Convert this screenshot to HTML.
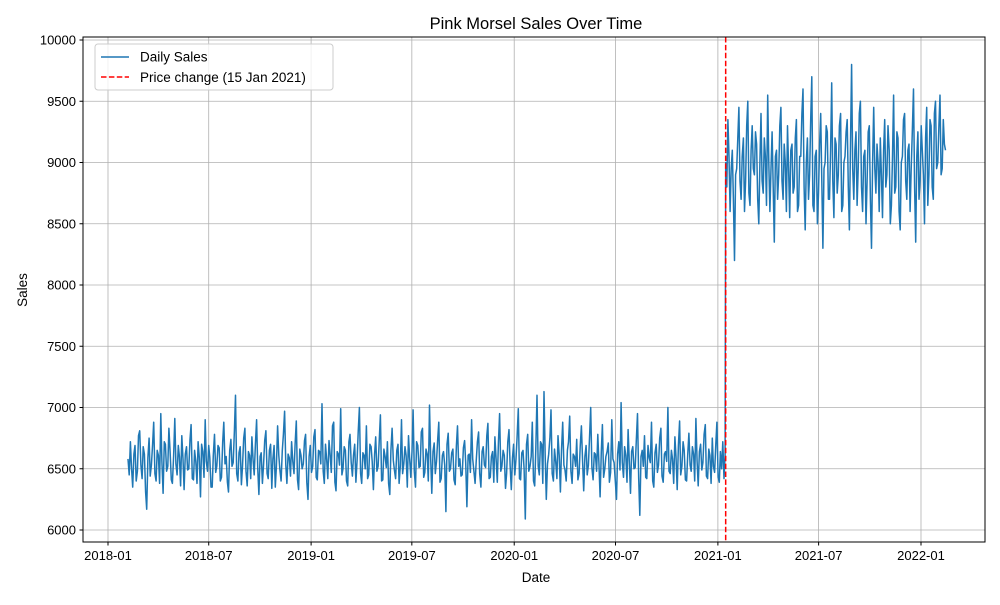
<!DOCTYPE html>
<html><head><meta charset="utf-8"><style>
body{margin:0;background:#fff}
svg text{font-family:"Liberation Sans","DejaVu Sans",sans-serif;fill:#000}
</style></head><body>
<svg id="chart" width="1000" height="600" xmlns="http://www.w3.org/2000/svg">
<rect width="1000" height="600" fill="#fff"/>
<text x="536" y="29" font-size="16.5" text-anchor="middle">Pink Morsel Sales Over Time</text>
<text x="536" y="582" font-size="13.5" text-anchor="middle">Date</text>
<text x="27" y="290" font-size="13.5" text-anchor="middle" transform="rotate(-90 27 290)">Sales</text>
<g id="grid"></g><g id="series"></g><g id="ticks"></g>
<rect x="83" y="37" width="902" height="505" fill="none" stroke="#000" stroke-width="1"/>
<g>
<rect x="95" y="44" width="238" height="46" rx="3" fill="#fff" fill-opacity="0.8" stroke="#ccc"/>
<line x1="101" y1="57" x2="129" y2="57" stroke="#1f77b4" stroke-width="1.5"/>
<text x="140" y="61.5" font-size="13.5">Daily Sales</text>
<line x1="101" y1="77" x2="129" y2="77" stroke="#ff0000" stroke-width="1.5" stroke-dasharray="5.5,2.4"/>
<text x="140" y="82" font-size="13.5">Price change (15 Jan 2021)</text>
</g>
</svg>
<script>
const yTicks=[6000,6500,7000,7500,8000,8500,9000,9500,10000];
const xTickLabels=["2018-01","2018-07","2019-01","2019-07","2020-01","2020-07","2021-01","2021-07","2022-01"];
const startDate="2018-02-06";
const changeDate="2021-01-15";
const endDate="2022-02-14";
const preValues=[6580,6450,6720,6510,6350,6620,6690,6400,6480,6770,6810,6530,6420,6680,6620,6310,6170,6590,6750,6440,
6530,6700,6880,6460,6400,6650,6610,6380,6950,6560,6300,6720,6700,6480,6520,6830,6640,6410,6380,6600,
6910,6540,6450,6690,6600,6360,6770,6580,6330,6620,6680,6490,6500,6740,6860,6420,6410,6650,6560,6380,
6720,6590,6270,6700,6640,6430,6900,6560,6480,6690,6590,6350,6350,6610,6780,6470,6520,6690,6670,6400,
6430,6720,6880,6540,6600,6390,6310,6650,6740,6520,6550,6810,7100,6460,6400,6630,6680,6370,6520,6750,
6830,6480,6360,6640,6610,6420,6760,6570,6450,6700,6900,6510,6290,6600,6630,6380,6540,6730,6810,6460,
6420,6650,6700,6340,6580,6690,6350,6520,6850,6610,6490,6400,6650,6780,6970,6530,6380,6620,6590,6440,
6720,6560,6460,6700,6890,6410,6330,6660,6610,6500,6540,6730,6780,6390,6250,6600,6690,6470,6520,6760,
6820,6430,6410,6650,6640,6540,7030,6480,6380,6700,6570,6420,6730,6610,6470,6850,6880,6390,6320,6640,
6620,6530,6990,6450,6500,6680,6650,6400,6360,6720,6780,6550,6440,6610,6700,6390,6570,6800,7000,6460,
6380,6630,6610,6500,6850,6420,6450,6700,6680,6560,6330,6620,6760,6480,6520,6740,6940,6400,6410,6660,
6600,6510,6720,6380,6290,6650,6830,6570,6490,6420,6650,6700,6380,6520,6900,6460,6540,6680,6610,6350,
6770,6590,6430,6640,6980,6480,6350,6720,6690,6510,6520,6800,6830,6430,6470,6660,6620,6400,7020,6580,
6300,6640,6710,6460,6560,6740,6880,6390,6420,6610,6640,6530,6150,6700,6790,6480,6500,6630,6660,6410,
6370,6690,6850,6520,6580,6440,6450,6670,6730,6550,6190,6610,6620,6470,6900,6580,6480,6380,6560,6720,
6800,6460,6350,6640,6680,6530,6510,6770,6870,6420,6430,6600,6640,6390,6760,6580,6390,6710,6950,6480,
6520,6650,6610,6340,6460,6720,6820,6530,6330,6590,6700,6450,6580,6760,6990,6420,6410,6630,6650,6500,
6090,6700,6780,6480,6520,6600,6880,6400,6360,6660,7100,6520,6450,6720,6700,6380,7130,6600,6250,6540,
6620,6750,6980,6460,6400,6660,6560,6420,6770,6610,6310,6650,6880,6530,6490,6400,6650,6720,6930,6480,
6380,6620,6600,6520,6740,6410,6460,6680,6850,6560,6320,6600,6690,6450,6530,6770,7000,6510,6410,6630,
6620,6480,6780,6550,6270,6640,6860,6430,6500,6600,6640,6710,6390,6470,6900,6580,6550,6400,6250,6620,
6720,6490,7040,6550,6430,6680,6610,6390,6820,6560,6300,6640,6680,6500,6510,6730,6950,6420,6120,6600,
6650,6520,6770,6430,6420,6690,6590,6550,6880,6400,6350,6630,6700,6470,6530,6750,6830,6440,6390,6620,
6640,6560,7000,6480,6460,6650,6580,6380,6760,6600,6330,6690,6890,6450,6520,6720,6650,6410,6400,6610,
6790,6530,6480,6680,6620,6400,6910,6560,6360,6640,6700,6490,6550,6780,6860,6440,6420,6660,6610,6380,
6750,6520,6470,6700,6880,6430,6390,6640,6500,6720,6420,6610];
const postValues=[9000,8800,9350,9050,8600,8950,9100,8700,8200,8900,8950,9200,9450,8850,8700,9050,9200,8600,8850,9300,
9500,8750,8650,9100,9300,8950,8900,9250,9150,8700,8500,9000,9400,8850,8750,9200,9050,8650,9550,9000,
8600,8950,9250,8800,8350,9050,9100,8700,8900,9300,9450,8850,8700,9150,9000,8600,9300,8950,8550,9100,
9150,8750,8800,9200,9350,8600,8650,9050,9050,9400,9600,8800,8450,9000,9200,8700,8900,9350,9700,8650,
8600,9050,9100,8500,8750,9150,9400,8850,8300,8950,9000,9300,9250,8700,8700,9100,9650,8850,8550,9200,
9150,8750,8900,9300,9400,8600,8650,9000,9050,9250,9350,8800,8450,9150,9800,8950,8700,9100,9250,8650,
8950,9400,9500,8800,8600,9050,9100,8500,8850,9250,9300,8700,8300,9000,9450,8950,8750,9150,9000,8600,
9200,8900,8550,9100,9350,8800,8900,9300,9100,8500,8650,9050,9550,8750,8800,9250,9200,8600,8450,9000,
9050,9350,9400,8850,8700,9100,9150,8600,8950,9250,9600,8800,8350,9050,9250,8700,8850,9300,9100,8900,
8500,9200,9450,8650,8900,9350,9300,8800,8700,9400,9500,8950,9000,9300,9550,8900,8950,9350,9150,9100];

const NS="http://www.w3.org/2000/svg";
const day=s=>Date.parse(s+"T00:00:00Z")/86400000;
const d0=day("2018-01-01"),d1=day("2022-01-01");
const x=d=>108+(d-d0)*(921-108)/(d1-d0);
const y=v=>530-(v-6000)*(530-40)/4000;
function mk(tag,attrs,parent){const e=document.createElementNS(NS,tag);for(const k in attrs)e.setAttribute(k,attrs[k]);parent.appendChild(e);return e;}
const grid=document.getElementById('grid'),ticks=document.getElementById('ticks'),series=document.getElementById('series');
yTicks.forEach(v=>{
 const g=mk('line',{x1:83,x2:985,y1:y(v),y2:y(v),stroke:'#b0b0b0','stroke-width':0.8},grid);
 
 
 mk('line',{x1:79.5,x2:83,y1:y(v),y2:y(v),stroke:'#000'},ticks);
 const t=mk('text',{x:76,y:y(v)+4.5,'font-size':13,'text-anchor':'end'},ticks);t.textContent=v;
 
 
});
xTickLabels.forEach(s=>{
 const xx=x(day(s+"-01"));
 const g=mk('line',{x1:xx,x2:xx,y1:37,y2:542,stroke:'#b0b0b0','stroke-width':0.8},grid);
 
 
 mk('line',{x1:xx,x2:xx,y1:542,y2:545.5,stroke:'#000'},ticks);
 const t=mk('text',{x:xx,y:560,'font-size':13,'text-anchor':'middle'},ticks);t.textContent=s;
 
 
});
const ds=day(startDate),dc=day(changeDate),de=day(endDate);
const pts=[];
preValues.forEach((v,i)=>pts.push([x(ds+i*(dc-1-ds)/(preValues.length-1)),y(v)]));
postValues.forEach((v,i)=>pts.push([x(dc+i*(de-dc)/(postValues.length-1)),y(v)]));
const pl=mk('polyline',{points:pts.map(p=>p[0].toFixed(1)+','+p[1].toFixed(1)).join(' '),fill:'none',stroke:'#1f77b4','stroke-width':1.5,'stroke-linejoin':'round'},series);


const xc=x(dc);
const rl=mk('line',{x1:xc,x2:xc,y1:37,y2:542,stroke:'#ff0000','stroke-width':1.5,'stroke-dasharray':'5.5,2.4'},series);


</script>
</body></html>
